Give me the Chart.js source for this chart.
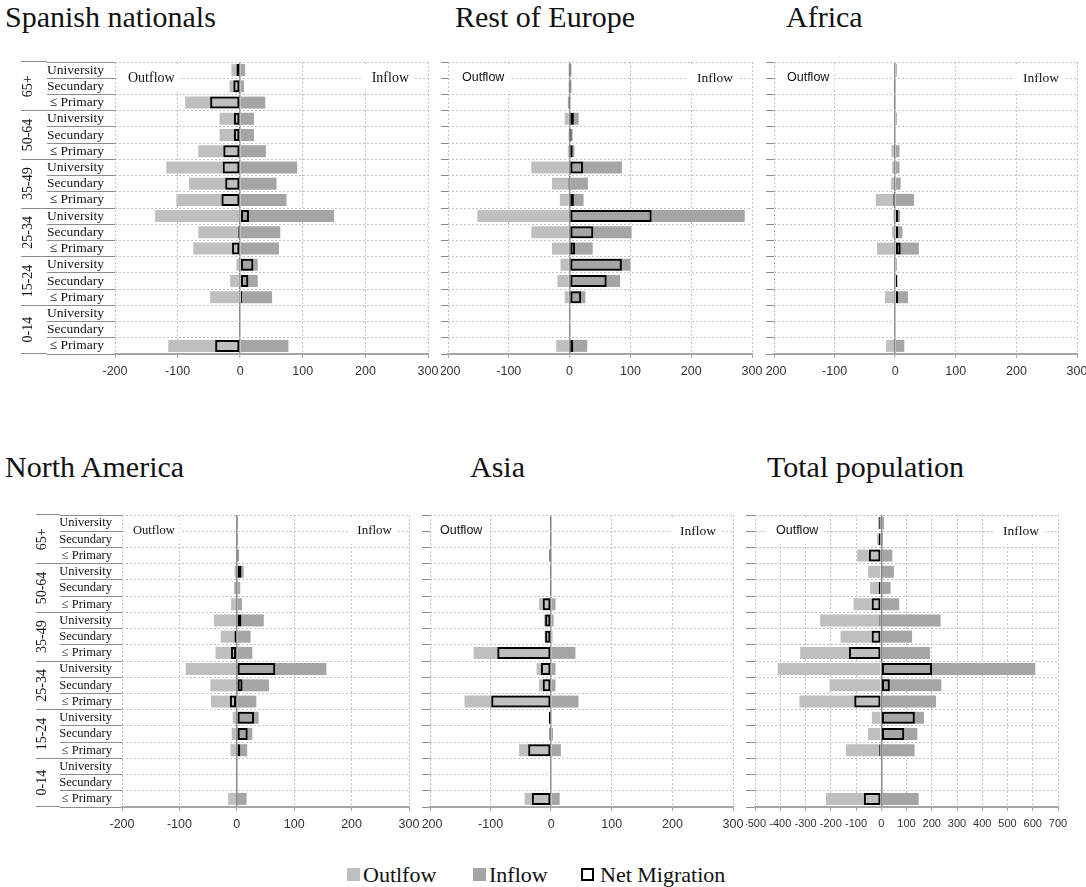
<!DOCTYPE html>
<html>
<head>
<meta charset="utf-8">
<script src="https://cdn.jsdelivr.net/npm/chart.js@4.4.0/dist/chart.umd.min.js"></script>
<style>
html,body{margin:0;padding:0;background:#fff;overflow:hidden;width:1086px;height:887px;position:relative;}
canvas{position:absolute;}
.title{position:absolute;font-family:'Liberation Serif',serif;font-size:30px;line-height:30px;color:#111;white-space:nowrap;}
.lg-box{position:absolute;width:13px;height:13px;box-sizing:border-box;}
.lg-text{position:absolute;font-family:'Liberation Serif',serif;font-size:22px;line-height:22px;color:#111;white-space:nowrap;}
</style>
</head>
<body>
<div class="title" style="left:5px;top:2px;">Spanish nationals</div>
<div class="title" style="left:455px;top:2px;">Rest of Europe</div>
<div class="title" style="left:786px;top:2px;">Africa</div>
<div class="title" style="left:5px;top:452px;">North America</div>
<div class="title" style="left:470px;top:452px;">Asia</div>
<div class="title" style="left:767px;top:452px;">Total population</div>

<div class="lg-box" style="left:347px;top:868px;background:#bfbfbf;"></div>
<div class="lg-text" style="left:363px;top:864px;" id="lg0"></div>
<div class="lg-box" style="left:473px;top:868px;background:#a5a5a5;"></div>
<div class="lg-text" style="left:489px;top:864px;" id="lg1"></div>
<div class="lg-box" style="left:581px;top:868px;border:2.5px solid #000;background:#fff;"></div>
<div class="lg-text" style="left:600px;top:864px;" id="lg2"></div>

<script>
// ---------- data ----------
const ageGroups = ['65+', '50-64', '35-49', '25-34', '15-24', '0-14'];
const eduLevels = ['University', 'Secundary', '≤ Primary'];
const seriesNames = ['Outlfow', 'Inflow', 'Net Migration'];
const xTicksSmall = [-200, -100, 0, 100, 200, 300];
const xTicksTotal = [-500, -400, -300, -200, -100, 0, 100, 200, 300, 400, 500, 600, 700];

const spanishOut = [-14, -17, -88, -33, -33, -67, -118, -82, -102, -136, -67, -75, -6, -16, -48, 0, 0, -115];
const spanishIn  = [8, 6, 40, 22, 22, 41, 91, 58, 74, 150, 64, 62, 28, 28, 51, 0, 0, 77];
const spanishNet = [-6, -11, -48, -10, -10, -27, -28, -24, -30, 14, -3, -13, 21, 13, 3, 0, 0, -40];

const europeOut = [-2, -2, -3, -8, -2, -3, -63, -29, -16, -152, -63, -29, -15, -20, -8, 0, 0, -22];
const europeIn  = [3, 3, 1, 15, 5, 8, 86, 30, 23, 288, 102, 38, 100, 83, 26, 0, 0, 29];
const europeNet = [2, 2, -2, 7, 3, 5, 22, -2, 7, 135, 39, 9, 86, 61, 19, 0, 0, 6];

const africaOut = [-1, -2, -2, -1, -1, -6, -5, -7, -32, -3, -5, -30, -1, -1, -17, 0, 0, -15];
const africaIn  = [2, 1, 1, 2, 1, 7, 7, 9, 31, 8, 12, 39, 2, 4, 21, 0, 0, 15];
const africaNet = [2, -2, -2, 2, 0, -2, -2, -2, -3, 5, 5, 9, 2, 3, 5, 0, 0, -2];

const namericaOut = [-1, -1, -1, -4, -5, -10, -40, -28, -37, -89, -46, -45, -7, -9, -11, 0, 0, -15];
const namericaIn  = [2, 2, 3, 12, 6, 9, 47, 24, 27, 156, 56, 34, 38, 27, 18, 0, 0, 17];
const namericaNet = [2, 2, 3, 8, -2, -1, 8, -4, -10, 67, 10, -12, 30, 19, 6, 0, 0, 2];

const asiaOut = [-2, -2, -3, -2, -2, -20, -12, -11, -128, -24, -20, -143, -3, -2, -53, 0, 0, -44];
const asiaIn  = [0, 0, 0, 0, 0, 7, 4, 2, 40, 7, 7, 45, 1, 3, 16, 0, 0, 14];
const asiaNet = [-2, -2, -3, -2, -2, -14, -10, -10, -89, -17, -14, -99, -4, -3, -38, 0, 0, -32];

const totalOut = [-13, -17, -95, -52, -44, -110, -242, -161, -321, -410, -205, -324, -37, -52, -140, 0, 0, -219];
const totalIn  = [11, 7, 44, 50, 37, 71, 235, 122, 193, 610, 238, 217, 169, 143, 132, 0, 0, 148];
const totalNet = [-8, -10, -49, 4, -10, -38, -7, -38, -128, 201, 34, -107, 133, 91, -8, 0, 0, -69];

// ---------- rendering ----------
document.getElementById('lg0').textContent = seriesNames[0];
document.getElementById('lg1').textContent = seriesNames[1];
document.getElementById('lg2').textContent = seriesNames[2];

const rowLabels = ageGroups.flatMap(() => eduLevels);
const SERIF = "'Liberation Serif', serif";
const SANS = "'Liberation Sans', sans-serif";

const flowLabels = {
  id: 'flowLabels',
  beforeDatasetsDraw(chart, args, o) {
    const {ctx, chartArea: {left, right, top}} = chart;
    ctx.save();
    ctx.textBaseline = 'middle';
    ctx.font = o.outFont;
    const wO = ctx.measureText('Outflow').width;
    const xO = left + o.outOff;
    ctx.font = o.inFont;
    const wI = ctx.measureText('Inflow').width;
    const xI = right - o.inOff - wI;
    ctx.fillStyle = '#ffffff';
    ctx.fillRect(xO - 9, top + 2, wO + 14, 27);
    ctx.fillRect(xI - 9, top + 2, wI + 14, 27);
    ctx.fillStyle = '#111';
    ctx.font = o.outFont;
    ctx.fillText('Outflow', xO, top + 16);
    ctx.font = o.inFont;
    ctx.fillText('Inflow', xI, top + 16);
    ctx.restore();
  }
};

const panels = [
  {out: spanishOut, inn: spanishIn, net: spanishNet, ticks: xTicksSmall, L: 115, T: 62, R: 428, B: 354, padR: 12,
   labels: true, ageW: 26, eduW: 68, eduPad: -57, agePad: -24, eduFont: 13.5, tickFont: 12.5,
   outFont: '14px ' + SERIF, inFont: '14px ' + SERIF, outOff: 13, inOff: 19},
  {out: europeOut, inn: europeIn, net: europeNet, ticks: xTicksSmall, L: 448, T: 62, R: 752, B: 354, padR: 12,
   labels: false, tickW: 7, tickFont: 12.5,
   outFont: '12.5px ' + SANS, inFont: '13.5px ' + SERIF, outOff: 14, inOff: 19},
  {out: africaOut, inn: africaIn, net: africaNet, ticks: xTicksSmall, L: 774, T: 62, R: 1077, B: 354, padR: 9,
   labels: false, tickW: 8, tickFont: 12.5,
   outFont: '12.5px ' + SANS, inFont: '13.5px ' + SERIF, outOff: 13, inOff: 18},
  {out: namericaOut, inn: namericaIn, net: namericaNet, ticks: xTicksSmall, L: 122, T: 515, R: 409, B: 807, padR: 12,
   labels: true, ageW: 24, eduW: 62, eduPad: -52, agePad: -23, eduFont: 12.5, tickFont: 12.5,
   outFont: '12.5px ' + SERIF, inFont: '13px ' + SERIF, outOff: 11, inOff: 17},
  {out: asiaOut, inn: asiaIn, net: asiaNet, ticks: xTicksSmall, L: 430, T: 515, R: 733, B: 807, padR: 12,
   labels: false, tickW: 8, tickFont: 12.5,
   outFont: '12.5px ' + SANS, inFont: '13.5px ' + SERIF, outOff: 10, inOff: 17},
  {out: totalOut, inn: totalIn, net: totalNet, ticks: xTicksTotal, L: 755, T: 515, R: 1058, B: 807, padR: 14,
   labels: false, tickW: 9, tickFont: 11,
   outFont: '12.5px ' + SANS, inFont: '13.5px ' + SERIF, outOff: 21, inOff: 19}
];

function makeChart(p) {
  const axesW = p.labels ? p.ageW + p.eduW : p.tickW;
  const left = p.L - axesW;
  const top = p.T - 6;
  const W = p.R + p.padR - left;
  const H = p.B + 30 - top;
  const cv = document.createElement('canvas');
  cv.width = W; cv.height = H;
  cv.style.left = left + 'px'; cv.style.top = top + 'px';
  cv.style.width = W + 'px'; cv.style.height = H + 'px';
  document.body.appendChild(cv);

  const isZero = ctx => ctx.tick && ctx.tick.value === 0;
  const scales = {
    x: {
      type: 'linear',
      min: p.ticks[0],
      max: p.ticks[p.ticks.length - 1],
      ticks: {
        stepSize: p.ticks[1] - p.ticks[0], autoSkip: false, maxRotation: 0, minRotation: 0,
        padding: 6, color: '#333', font: {family: SANS, size: p.tickFont}
      },
      grid: {
        color: ctx => isZero(ctx) ? '#8a8a8a' : '#c2c2c2',
        lineWidth: ctx => isZero(ctx) ? 1.5 : 1,
        tickLength: 4, tickColor: '#a6a6a6', tickWidth: 1
      },
      border: {display: true, color: '#a6a6a6', width: 2,
        dash: ctx => (ctx.tick && ctx.tick.value !== 0) ? [2, 2] : []},
      afterFit: s => { s.height = 30; s.paddingLeft = 0; s.paddingRight = 0; }
    }
  };
  if (p.labels) {
    scales.y = {
      type: 'category', position: 'left', offset: true, weight: 0,
      grid: {offset: true, color: '#c2c2c2', lineWidth: 1, tickLength: p.eduW, tickColor: '#8c8c8c', tickWidth: 1},
      border: {display: false, dash: [2, 2]},
      ticks: {autoSkip: false, crossAlign: 'near', padding: p.eduPad, color: '#111',
        font: {family: SERIF, size: p.eduFont}},
      afterFit: s => { s.width = p.eduW; s.paddingTop = 0; s.paddingBottom = 0; }
    };
    scales.yAge = {
      type: 'category', labels: ageGroups, position: 'left', offset: true, weight: 1,
      grid: {offset: true, drawOnChartArea: false, tickLength: p.ageW, tickColor: '#8c8c8c', color: '#8c8c8c', tickWidth: 1},
      border: {display: false},
      ticks: {autoSkip: false, minRotation: 90, maxRotation: 90, crossAlign: 'center', padding: p.agePad,
        color: '#111', font: {family: SERIF, size: 14}},
      afterFit: s => { s.width = p.ageW; s.paddingTop = 0; s.paddingBottom = 0; }
    };
  } else {
    scales.y = {
      type: 'category', position: 'left', offset: true,
      grid: {offset: true, color: '#c2c2c2', lineWidth: 1, tickLength: p.tickW, tickColor: '#8c8c8c', tickWidth: 1},
      border: {display: false, dash: [2, 2]},
      ticks: {display: false, autoSkip: false},
      afterFit: s => { s.width = p.tickW; s.paddingTop = 0; s.paddingBottom = 0; }
    };
  }

  const common = {grouped: false, barPercentage: 0.74, categoryPercentage: 1};
  new Chart(cv, {
    type: 'bar',
    data: {
      labels: rowLabels,
      datasets: [
        Object.assign({label: seriesNames[0], data: p.out, backgroundColor: '#bfbfbf', borderWidth: 0, order: 2}, common),
        Object.assign({label: seriesNames[1], data: p.inn, backgroundColor: '#a5a5a5', borderWidth: 0, order: 1}, common),
        Object.assign({label: seriesNames[2], data: p.net, backgroundColor: 'rgba(0,0,0,0)', borderColor: '#000',
          borderWidth: 2, borderSkipped: false, order: 0}, common)
      ]
    },
    options: {
      indexAxis: 'y',
      responsive: false,
      maintainAspectRatio: false,
      animation: false,
      layout: {padding: {left: 0, right: p.padR, top: 6, bottom: 0}},
      scales: scales,
      plugins: {
        legend: {display: false},
        tooltip: {enabled: false},
        flowLabels: {outFont: p.outFont, inFont: p.inFont, outOff: p.outOff, inOff: p.inOff}
      }
    },
    plugins: [flowLabels]
  });
}

panels.forEach(makeChart);
</script>
</body>
</html>
